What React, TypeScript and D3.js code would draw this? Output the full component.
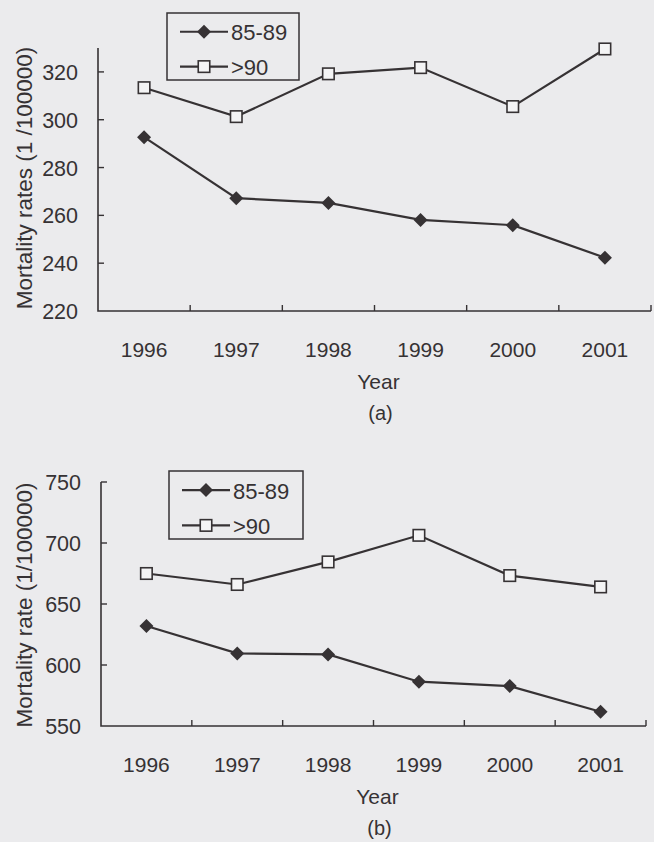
import React from "react";
import * as d3 from "d3";

const years = ["1996", "1997", "1998", "1999", "2000", "2001"];
const seriesNames = ["85-89", ">90"];

// Chart (a) Mortality rates (1/100000)
const a8589 = [292.7, 267.2, 265.2, 258.1, 255.9, 242.3];
const a90 = [313.4, 301.3, 319.2, 321.8, 305.5, 329.6];
const aTicks = [220, 240, 260, 280, 300, 320];

// Chart (b) Mortality rate (1/100000)
const b8589 = [632, 609.5, 608.7, 586.3, 582.7, 561.7];
const b90 = [675, 666, 684.5, 706.3, 673.3, 664];
const bTicks = [550, 600, 650, 700, 750];

const INK = "#363234";
const FONT = "'Liberation Sans', Arial, sans-serif";

type PanelProps = {
  x0: number; x1: number; yTop: number; yBottom: number;
  domain: [number, number]; ticks: number[];
  s1: number[]; s2: number[];
  yLabel: string; yLabelCenter: number;
  legend: { x: number; y: number; w: number; h: number };
  caption: string;
};

function Diamond({ cx, cy }: { cx: number; cy: number }) {
  const r = 7;
  return <path d={`M${cx},${cy - r}L${cx + r},${cy}L${cx},${cy + r}L${cx - r},${cy}Z`} fill={INK} />;
}
function Square({ cx, cy }: { cx: number; cy: number }) {
  const s = 11.5;
  return <rect x={cx - s / 2} y={cy - s / 2} width={s} height={s} fill="#f4f4f5" stroke={INK} strokeWidth={1.6} />;
}

function Panel(p: PanelProps) {
  const x = d3.scaleBand<string>().domain(years).range([p.x0, p.x1]).padding(0);
  const y = d3.scaleLinear().domain(p.domain).range([p.yBottom, p.yTop]);
  const cx = (yr: string) => (x(yr) as number) + x.bandwidth() / 2;
  const line = d3.line<number>().x((_, i) => cx(years[i])).y((v) => y(v));
  const boundaries = years.slice(1).map((yr) => x(yr) as number).concat([p.x1]);
  const L = p.legend;
  const row1 = L.y + L.h * 0.28;
  const row2 = L.y + L.h * 0.8;
  return (
    <g fontFamily={FONT}>
      <path d={`M${p.x0},${p.yTop}V${p.yBottom}H${p.x1}`} fill="none" stroke={INK} strokeWidth={1.6} />
      {p.ticks.filter((t) => t !== p.domain[0]).map((t) => (
        <line key={t} x1={p.x0} x2={p.x0 + 6} y1={y(t)} y2={y(t)} stroke={INK} strokeWidth={1.4} />
      ))}
      {boundaries.map((b, i) => (
        <line key={i} x1={b} x2={b} y1={p.yBottom} y2={p.yBottom - 6} stroke={INK} strokeWidth={1.4} />
      ))}
      {p.ticks.map((t) => (
        <text key={t} x={p.x0 - 20} y={y(t) + 1} dominantBaseline="central" textAnchor="end" fontSize={21.5} fill={INK}>{t}</text>
      ))}
      {years.map((yr) => (
        <text key={yr} x={cx(yr)} y={p.yBottom + 38} dominantBaseline="central" textAnchor="middle" fontSize={21} fill={INK}>{yr}</text>
      ))}
      <text x={(p.x0 + p.x1) / 2 + 4} y={p.yBottom + 70} dominantBaseline="central" textAnchor="middle" fontSize={21} fill={INK}>Year</text>
      <text x={(p.x0 + p.x1) / 2 + 6} y={p.yBottom + 102} dominantBaseline="central" textAnchor="middle" fontSize={20} fill={INK}>{p.caption}</text>
      <text transform={`translate(24,${p.yLabelCenter}) rotate(-90)`} dominantBaseline="central" textAnchor="middle" fontSize={22.5} fill={INK}>{p.yLabel}</text>
      <path d={line(p.s1) || ""} fill="none" stroke={INK} strokeWidth={2.2} />
      <path d={line(p.s2) || ""} fill="none" stroke={INK} strokeWidth={2.2} />
      {p.s1.map((v, i) => <Diamond key={i} cx={cx(years[i])} cy={y(v)} />)}
      {p.s2.map((v, i) => <Square key={i} cx={cx(years[i])} cy={y(v)} />)}
      <rect x={L.x} y={L.y} width={L.w} height={L.h} fill="none" stroke={INK} strokeWidth={1.5} />
      <line x1={L.x + 13} x2={L.x + 61} y1={row1} y2={row1} stroke={INK} strokeWidth={2.2} />
      <Diamond cx={L.x + 37} cy={row1} />
      <text x={L.x + 64} y={row1 + 1} dominantBaseline="central" fontSize={22} fill={INK}>{seriesNames[0]}</text>
      <line x1={L.x + 13} x2={L.x + 61} y1={row2} y2={row2} stroke={INK} strokeWidth={2.2} />
      <Square cx={L.x + 37} cy={row2} />
      <text x={L.x + 64} y={row2 + 1} dominantBaseline="central" fontSize={22} fill={INK}>{seriesNames[1]}</text>
    </g>
  );
}

export default function App() {
  return (
    <svg width={654} height={842} style={{ position: "absolute", left: 0, top: 0 }}>
      <rect width={654} height={842} fill="#ebebed" />
      <Panel x0={98} x1={651} yTop={48} yBottom={311} domain={[220, 330]} ticks={aTicks}
        s1={a8589} s2={a90} yLabel="Mortality rates (1 /100000)" yLabelCenter={178}
        legend={{ x: 167, y: 13, w: 132, h: 67 }} caption="(a)" />
      <Panel x0={101} x1={646} yTop={482} yBottom={726} domain={[550, 750]} ticks={bTicks}
        s1={b8589} s2={b90} yLabel="Mortality rate (1/100000)" yLabelCenter={605}
        legend={{ x: 169, y: 471, w: 134, h: 68 }} caption="(b)" />
    </svg>
  );
}
